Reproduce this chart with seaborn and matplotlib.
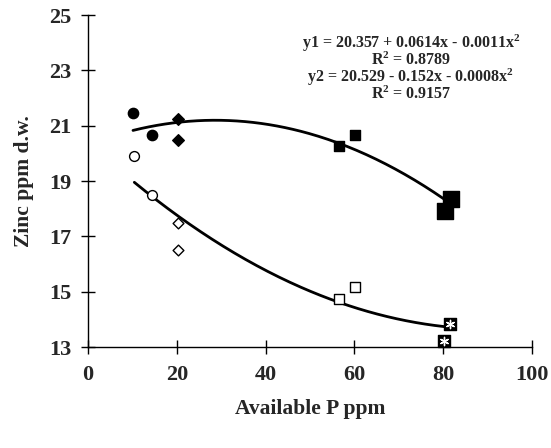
import numpy as np
import pandas as pd
import matplotlib
matplotlib.use("Agg")
import matplotlib.pyplot as plt
import seaborn as sns

# ---- data ----
# upper group (filled markers) and lower group (open markers)
up_circle_x = [10.1, 14.4]
up_circle_y = [21.46, 20.66]
up_diamond_x = [20.3, 20.3]
up_diamond_y = [21.24, 20.48]
up_sq_small_x = [56.5, 60.1]
up_sq_small_y = [20.27, 20.66]
up_sq_big_x = [81.8, 80.4]
up_sq_big_y = [18.35, 17.92]

lo_circle_x = [10.4, 14.4]
lo_circle_y = [19.9, 18.5]
lo_diamond_x = [20.3, 20.3]
lo_diamond_y = [17.5, 16.5]
lo_square_x = [56.5, 60.1]
lo_square_y = [14.72, 15.18]
lo_star_x = [81.6, 80.1]
lo_star_y = [13.85, 13.2]

eq_lines = ["y1 = 20.357 + 0.0614x - 0.0011x$^{2}$",
            "R$^{2}$ = 0.8789",
            "y2 = 20.529 - 0.152x - 0.0008x$^{2}$",
            "R$^{2}$ = 0.9157"]
x_ticks = [0, 20, 40, 60, 80, 100]
y_ticks = [13, 15, 17, 19, 21, 23, 25]

sns.set_style("white")
plt.rcParams["font.family"] = ["Liberation Serif", "DejaVu Serif"]
plt.rcParams["font.weight"] = "bold"
plt.rcParams["mathtext.fontset"] = "custom"
plt.rcParams["mathtext.rm"] = "Liberation Serif:bold"
plt.rcParams["mathtext.it"] = "Liberation Serif:bold"
plt.rcParams["mathtext.bf"] = "Liberation Serif:bold"
plt.rcParams["mathtext.default"] = "rm"

fig = plt.figure(figsize=(5.51, 4.48), dpi=100)
ax = fig.add_axes([0.16, 0.2254, 0.8055, 0.7411])

def sc(x, y, marker, size, fc, ec="black", lw=1.0, z=3):
    df = pd.DataFrame({"x": x, "y": y})
    sns.scatterplot(data=df, x="x", y="y", ax=ax, marker=marker, s=size,
                    facecolor=fc, edgecolor=ec, linewidth=lw, zorder=z,
                    clip_on=False, legend=False)

# trend lines (quadratic fits through each group)
up_x = up_circle_x + up_diamond_x + up_sq_small_x + up_sq_big_x
up_y = up_circle_y + up_diamond_y + up_sq_small_y + up_sq_big_y
lo_x = lo_circle_x + lo_diamond_x + lo_square_x + lo_star_x
lo_y = lo_circle_y + lo_diamond_y + lo_square_y + lo_star_y
for gx, gy in [(up_x, up_y), (lo_x, lo_y)]:
    c = np.polyfit(gx, gy, 2)
    xs = np.linspace(min(gx), max(gx), 200)
    sns.lineplot(x=xs, y=np.polyval(c, xs), ax=ax, color="black", lw=2.0,
                 zorder=2, legend=False)

sc(up_circle_x, up_circle_y, "o", 55, "black")
sc(up_diamond_x, up_diamond_y, "D", 35, "black")
sc(up_sq_small_x, up_sq_small_y, "s", 60, "black")
sc(up_sq_big_x, up_sq_big_y, "s", 120, "black")
sc(lo_circle_x, lo_circle_y, "o", 50, "white")
sc(lo_diamond_x, lo_diamond_y, "D", 30, "white")
sc(lo_square_x, lo_square_y, "s", 55, "white")
sc(lo_star_x, lo_star_y, "s", 75, "black", z=4)
sc(lo_star_x, lo_star_y, (6, 2, 0), 35, "white", ec="white", lw=1.0, z=5)

ax.set_xlim(0, 100)
ax.set_ylim(13, 25)
ax.set_xticks(x_ticks)
ax.set_yticks(y_ticks)
ax.set_xticklabels([str(t) for t in x_ticks])
ax.set_yticklabels([str(t) for t in y_ticks])
for s in ["top", "right"]:
    ax.spines[s].set_visible(False)
for s in ["left", "bottom"]:
    ax.spines[s].set_color("black")
    ax.spines[s].set_linewidth(1.0)
ax.tick_params(axis="both", direction="inout", length=10, width=1.0,
               color="black", labelsize=16, bottom=True, left=True)
ax.tick_params(axis="x", pad=8)
ax.tick_params(axis="y", pad=7)
for lab in ax.get_xticklabels() + ax.get_yticklabels():
    lab.set_fontweight("bold")

ax.set_xlabel("Available P ppm", fontsize=15.5, fontweight="bold", labelpad=10)
ax.set_ylabel("Zinc ppm d.w.", fontsize=15.5, fontweight="bold", labelpad=11)

# equations as one centred block
W, H = 551, 448
fig.text(411 / W, 1 - 68 / H, "\n".join(eq_lines), ha="center", va="center",
         multialignment="center", fontsize=11.5, fontweight="bold",
         linespacing=0.83)

fig.savefig("out.png", dpi=100)
